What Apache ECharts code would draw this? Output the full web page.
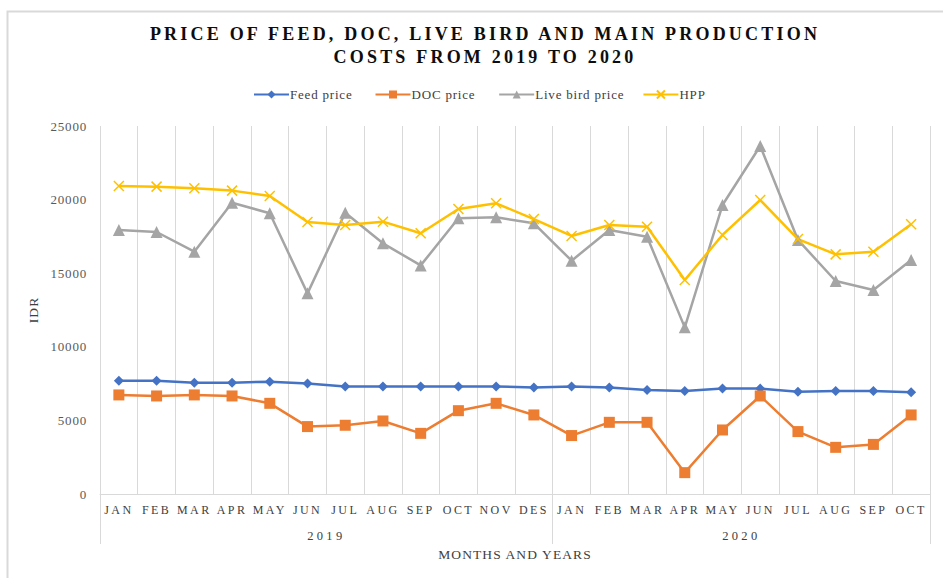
<!DOCTYPE html>
<html>
<head>
<meta charset="utf-8">
<script src="https://cdn.jsdelivr.net/npm/echarts@6/dist/echarts.min.js"></script>
<style>
  html, body { margin: 0; padding: 0; background: #fff; }
  #chart { width: 943px; height: 578px; }
  /* the source chart uses spaced-out lettering; each text role has its own size */
  #chart text[style*="18px"] { letter-spacing: 3.2px; }
  #chart text[style*="12px"] { letter-spacing: 2.4px; }
  #chart text[style*="12.5px"] { letter-spacing: 3.3px; }
  #chart text[style*="13px"] { letter-spacing: 0.8px; }
  #chart text[style*="13.5px"] { letter-spacing: 1.1px; }
</style>
</head>
<body>
<div id="chart"></div>
<script>
  // months 2019 JAN..DES, 2020 JAN..OCT
  var months = ['JAN', 'FEB', 'MAR', 'APR', 'MAY', 'JUN', 'JUL', 'AUG', 'SEP', 'OCT', 'NOV', 'DES',
    'JAN', 'FEB', 'MAR', 'APR', 'MAY', 'JUN', 'JUL', 'AUG', 'SEP', 'OCT']
  var years = ['2019', '2020']
  var yearStarts = [0, 12, 22]

  var feedPrice = [7700, 7700, 7560, 7560, 7630, 7500, 7310, 7310, 7310, 7310, 7310, 7230,
    7310, 7230, 7070, 7000, 7160, 7160, 6950, 7000, 7000, 6910]
  var docPrice = [6730, 6660, 6730, 6660, 6160, 4580, 4670, 4960, 4120, 5660, 6160, 5370,
    3970, 4870, 4870, 1450, 4350, 6660, 4240, 3170, 3370, 5370]
  var liveBirdPrice = [17930, 17800, 16460, 19790, 19070, 13630, 19110, 17030, 15530, 18730, 18800, 18390,
    15850, 17930, 17480, 11320, 19630, 23640, 17260, 14470, 13860, 15900]
  var hpp = [20920, 20880, 20770, 20610, 20240, 18480, 18270, 18500, 17710, 19360, 19750, 18680,
    17530, 18270, 18160, 14540, 17600, 19970, 17320, 16280, 16460, 18320]

  var serif = 'Liberation Serif, serif'
  var gridColor = '#d9d9d9'

  // year label sits in the middle of its span of months
  var yearCenters = years.map(function (y, i) {
    return (yearStarts[i] + yearStarts[i + 1]) / 2
  })

  var chart = echarts.init(document.getElementById('chart'), null, { renderer: 'svg' })

  var option = {
    backgroundColor: '#fff',
    animation: false,
    title: {
      text: 'PRICE OF FEED, DOC, LIVE BIRD AND MAIN PRODUCTION\nCOSTS FROM 2019 TO 2020',
      left: 480,
      top: 17,
      textAlign: 'center',
      textStyle: {
        fontFamily: serif,
        fontWeight: 'bold',
        fontSize: 18,
        lineHeight: 23,
        color: '#0d0d0d'
      }
    },
    legend: {
      top: 83,
      left: 248,
      itemWidth: 35,
      itemHeight: 10,
      itemGap: 30,
      textStyle: { fontFamily: serif, fontSize: 13, color: '#404040', padding: [0, 0, 0, -4] },
      data: ['Feed price', 'DOC price', 'Live bird price', 'HPP']
    },
    grid: {
      left: 100,
      right: 13,
      top: 126,
      bottom: 84
    },
    xAxis: [
      {
        type: 'category',
        data: months,
        boundaryGap: true,
        axisLine: { lineStyle: { color: gridColor } },
        axisTick: { show: false },
        splitLine: { show: true, interval: 0, lineStyle: { color: gridColor, width: 1 } },
        axisLabel: {
          interval: 0,
          margin: 10,
          fontFamily: serif,
          fontSize: 12,
          color: '#404040'
        }
      },
      {
        type: 'value',
        position: 'bottom',
        min: 0,
        max: 22,
        axisLine: { show: false },
        splitLine: { show: false },
        axisTick: {
          show: true,
          customValues: yearStarts,
          length: 50,
          lineStyle: { color: gridColor }
        },
        axisLabel: {
          customValues: yearCenters,
          margin: 35,
          fontFamily: serif,
          fontSize: 12.5,
          color: '#404040',
          formatter: function (v) {
            return years[yearCenters.indexOf(v)]
          }
        },
        name: 'MONTHS AND YEARS',
        nameLocation: 'middle',
        nameGap: 53,
        nameTextStyle: { fontFamily: serif, fontSize: 13.5, color: '#404040' }
      }
    ],
    yAxis: {
      type: 'value',
      min: 0,
      max: 25000,
      interval: 5000,
      axisLine: { show: false },
      axisTick: { show: false },
      splitLine: { show: false },
      axisLabel: {
        margin: 13,
        fontFamily: serif,
        fontSize: 13,
        color: '#595959',
        formatter: function (v) { return String(v) }
      },
      name: 'IDR',
      nameLocation: 'middle',
      nameRotate: 90,
      nameGap: 60,
      nameTextStyle: { fontFamily: serif, fontSize: 13.5, color: '#404040' }
    },
    series: [
      {
        name: 'Feed price',
        type: 'line',
        data: feedPrice,
        symbol: 'diamond',
        symbolSize: 10,
        lineStyle: { width: 2.5, color: '#4472C4' },
        itemStyle: { color: '#4472C4' }
      },
      {
        name: 'DOC price',
        type: 'line',
        data: docPrice,
        symbol: 'rect',
        symbolSize: 11,
        lineStyle: { width: 2.5, color: '#ED7D31' },
        itemStyle: { color: '#ED7D31' }
      },
      {
        name: 'Live bird price',
        type: 'line',
        data: liveBirdPrice,
        symbol: 'triangle',
        symbolSize: 12,
        lineStyle: { width: 2.5, color: '#A5A5A5' },
        itemStyle: { color: '#A5A5A5' }
      },
      {
        name: 'HPP',
        type: 'line',
        data: hpp,
        symbol: 'path://M0,0L10,10M10,0L0,10',
        symbolSize: 10,
        lineStyle: { width: 2.5, color: '#FFC000' },
        itemStyle: { color: '#FFC000', borderColor: '#FFC000', borderWidth: 1.5 }
      }
    ],
    graphic: [
      {
        // chart area border (only top and left visible in frame)
        type: 'rect',
        left: 5,
        top: 9,
        shape: { width: 960, height: 600 },
        style: { fill: 'none', stroke: '#d9d9d9', lineWidth: 2 },
        silent: true,
        z: -1
      }
    ]
  }

  chart.setOption(option)
</script>
</body>
</html>
